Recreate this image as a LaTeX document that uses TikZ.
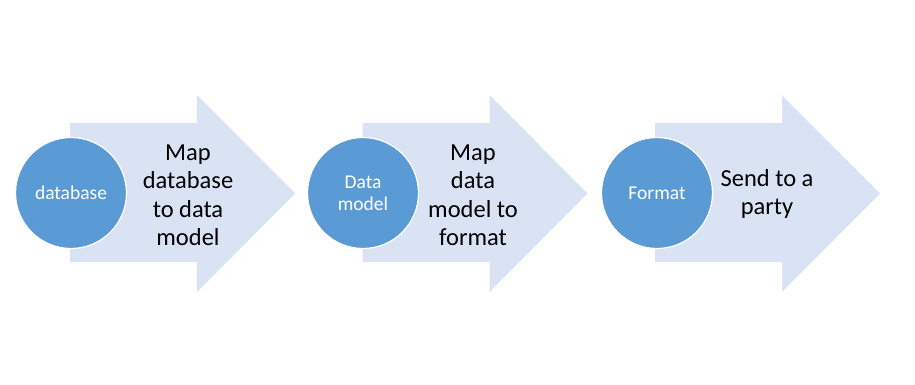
\documentclass[tikz,border=0pt]{standalone}
\usepackage{fontspec}
\setmainfont{Carlito}
\definecolor{arrowfill}{HTML}{DAE3F3}
\definecolor{circfill}{HTML}{5B9BD5}
\begin{document}
\begin{tikzpicture}[x=1pt,y=-1pt,
  bigarrow/.style={fill=arrowfill,draw=none},
  stepcirc/.style={circle,fill=circfill,draw=white,line width=1.2pt,minimum size=111pt,inner sep=0pt,
    text=white,align=center,font=\fontsize{19.5}{22}\selectfont},
  arrowtext/.style={align=center,text=black,font=\fontsize{24.5}{28.5}\selectfont}]
\useasboundingbox (0,0) rectangle (915,384);
\foreach \dx in {0,292.5,585}{
  \fill[bigarrow] (70+\dx,123) -- (197+\dx,123) -- (197+\dx,95) -- (295+\dx,193.5)
     -- (197+\dx,292) -- (197+\dx,262) -- (70+\dx,262) -- cycle;
}
\node[stepcirc] (c1) at (71,193) {database};
\node[stepcirc] (c2) at (363,193) {Data\\model};
\node[stepcirc] (c3) at (657,193) {Format};
\node[arrowtext] (t1) at (188,195) {Map\\database\\to data\\model};
\node[arrowtext] (t2) at (473,195) {Map\\data\\model to\\format};
\node[arrowtext] (t3) at (767,194) {Send to a\\party};
\end{tikzpicture}
\end{document}
